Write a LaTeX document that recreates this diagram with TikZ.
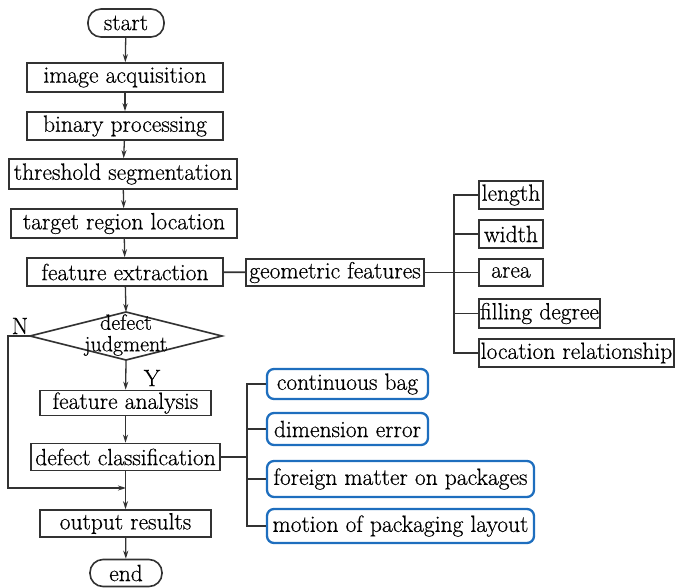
\documentclass[tikz,border=0pt]{standalone}
\usepackage{fontspec}
\setmainfont{Latin Modern Roman}[FakeBold=0.5]
\usetikzlibrary{arrows.meta}
\definecolor{myblue}{RGB}{30,110,190}
\definecolor{ln}{RGB}{50,50,50}
\begin{document}
\begin{tikzpicture}[x=1pt,y=-1pt,
  font=\fontsize{23.5}{20}\selectfont,
  box/.style={draw=ln, line width=1.6pt, inner sep=0pt, minimum width=#1, minimum height=28},
  term/.style={draw=ln, line width=1.6pt, rounded corners=13, inner sep=0pt, minimum width=#1, minimum height=28},
  bbox/.style={draw=myblue, line width=2.3pt, rounded corners=7, inner sep=0pt, minimum width=#1, minimum height=31},
  arr/.style={draw=ln, line width=1.3pt, -{Stealth[length=8,width=5]}},
  con/.style={draw=ln, line width=1.6pt},
  lbl/.style={inner sep=0pt}]
\useasboundingbox (0,0) rectangle (675,587);
% main column
\node[term=76] (st) at (126,23) {start};
\node[box=196,minimum height=29] (ia) at (125,77.5) {image acquisition};
\node[box=196] (bp) at (125,126) {binary processing};
\node[box=228,minimum height=30] (ts) at (123,174) {threshold segmentation};
\node[box=226,minimum height=29] (tr) at (124,223.5) {target region location};
\node[box=196] (fe) at (125,272) {feature extraction};
% diamond
\coordinate (djT) at (126,312);
\coordinate (djB) at (126,360);
\coordinate (djL) at (30,336);
\coordinate (djR) at (222,336);
\draw[con] (djT) -- (djR) -- (djB) -- (djL) -- cycle;
\node[lbl, align=center, font=\fontsize{22}{21.5}\selectfont] (dj) at (126,335) {defect\\judgment};
\node[box=171,minimum height=25] (fa) at (125.5,403) {feature analysis};
\node[box=189,minimum height=27] (dc) at (125.5,457) {defect classification};
\node[box=171,minimum height=27] (orr) at (125.5,523.5) {output results};
\node[term=72,minimum height=27] (en) at (126,573) {end};
\coordinate (merge) at (126,488);
\node[lbl] (nl) at (20,326) {N};
\node[lbl] (yl) at (152,378) {Y};
% arrows
\draw[arr] (st) -- (ia);
\draw[arr] (ia) -- (bp);
\draw[arr] (bp) -- (ts);
\draw[arr] (ts) -- (tr);
\draw[arr] (tr) -- (fe);
\draw[arr] (fe) -- (djT);
\draw[arr] (djB) -- (fa);
\draw[arr] (fa) -- (dc);
\draw[arr] (dc) -- (orr);
\draw[arr] (orr) -- (en);
\draw[arr] (djL) -- ++(-22,0) |- (merge);
% geometric features
\node[box=178,minimum height=27] (gf) at (335,272.5) {geometric features};
\node[box=64] (len) at (511,195) {length};
\node[box=64] (wid) at (511,234) {width};
\node[box=64,minimum height=27] (ar) at (511,272.5) {area};
\node[box=121,minimum height=29] (fd) at (539.5,313.5) {filling degree};
\node[box=195] (lr) at (576.5,353) {location relationship};
\draw[con] (fe) -- (gf);
\draw[con] (gf) -- (ar);
\draw[con] (len.west) -- ++(-24,0) |- (lr.west);
\draw[con] (wid.west) -- ++(-24,0);
\draw[con] (fd.west) -- ++(-24,0);
% defect classes
\node[bbox=161,minimum height=30] (cb) at (347.5,384) {continuous bag};
\node[bbox=161,minimum height=32] (de) at (347.5,429) {dimension error};
\node[bbox=267,minimum height=36] (fm) at (400.5,479) {foreign matter on packages};
\node[bbox=267,minimum height=34] (mp) at (400.5,526) {motion of packaging layout};
\draw[con] (dc.east) -- (248,457);
\draw[con] (cb.west) -- ++(-19,0) |- (mp.west);
\draw[con] (de.west) -- ++(-19,0);
\draw[con] (fm.west) -- ++(-19,0);
\end{tikzpicture}
\end{document}
